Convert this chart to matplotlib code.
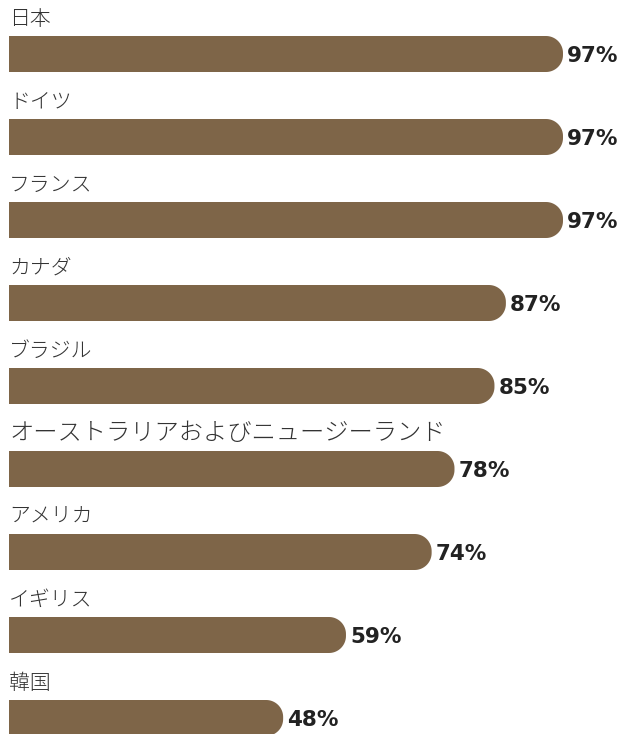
import matplotlib
matplotlib.use("Agg")
import numpy as np
import matplotlib.pyplot as plt
from matplotlib.patches import Polygon

plt.rcParams['font.family'] = ['Noto Sans CJK JP', 'DejaVu Sans']

countries = ["日本", "ドイツ", "フランス", "カナダ", "ブラジル",
             "オーストラリアおよびニュージーランド", "アメリカ", "イギリス", "韓国"]
values = [97, 97, 97, 87, 85, 78, 74, 59, 48]
value_labels = [f"{v}%" for v in values]

# style: label font sizes (the long label is set larger in the original)
label_sizes = [15, 15, 15, 15, 15, 17.5, 15, 15, 15]

W, H = 630, 734
fig = plt.figure(figsize=(W / 100, H / 100), dpi=100)
ax = fig.add_axes([0, 0, 1, 1])

px_per_pct = (563 - 9) / 97.0
pitch = 83.0
ax.set_xlim(-9 / px_per_pct, (W - 9) / px_per_pct)
ax.set_ylim((H - 54) / pitch, -54 / pitch)
ax.axis('off')

color = '#7e6548'
bar_h = 36 / pitch
r_px = 17
r_x = r_px / px_per_pct
r_y = r_px / pitch
t = np.linspace(0, np.pi / 2, 20)


def rounded_bar(i, v):
    top = i - bar_h / 2
    bot = i + bar_h / 2
    cx = v - r_x
    pts = [(0, top)]
    cy1 = top + r_y
    pts += [(cx + r_x * np.sin(a), cy1 - r_y * np.cos(a)) for a in t]
    cy2 = bot - r_y
    pts += [(cx + r_x * np.cos(a), cy2 + r_y * np.sin(a)) for a in t]
    pts += [(0, bot)]
    return Polygon(pts, closed=True, facecolor=color, edgecolor='none', linewidth=0)


for i, (name, v, lab) in enumerate(zip(countries, values, value_labels)):
    ax.add_patch(rounded_bar(i, v))
    ax.text(0, i - 35 / pitch, name, fontsize=label_sizes[i], color='#333333',
            fontweight='light', va='center', ha='left')
    ax.text(v + 4 / px_per_pct, i + 2 / pitch, lab, fontsize=15.5,
            fontweight='bold', color='#222222', va='center', ha='left',
            family=['DejaVu Sans'])

fig.savefig('out.png', dpi=100)
